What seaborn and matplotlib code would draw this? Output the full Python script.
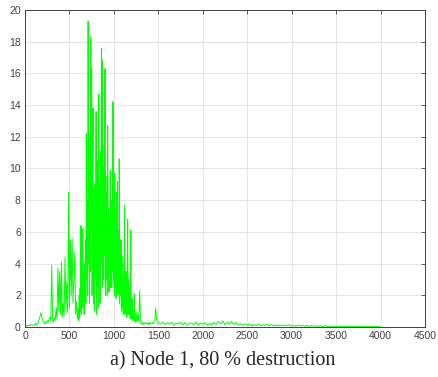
import numpy as np
import pandas as pd
import seaborn as sns
import matplotlib
matplotlib.use("Agg")
import matplotlib.pyplot as plt

# values
# start: 0..590 every 10
start_x = list(range(0, 600, 10))
start_y = [
    0.05, 0.1, 0.05, 0.1, 0.08, 0.12, 0.1, 0.15, 0.1, 0.12,
    0.15, 0.1, 0.2, 0.15, 0.25, 0.3, 0.5, 0.7, 0.9, 0.6,
    0.4, 0.3, 0.2, 0.3, 0.25, 0.4, 0.3, 0.5, 0.6, 0.4,
    3.9, 0.5, 0.3, 0.6, 0.4, 1.2, 0.5, 3.7, 1.0, 3.5,
    0.8, 4.1, 0.6, 1.5, 0.7, 4.4, 1.0, 2.8, 0.9, 8.5,
    1.2, 5.5, 2.0, 5.6, 1.5, 3.0, 4.7, 0.8, 1.6, 0.5,
]
# burst: 600..1250 every 5
burst_x = list(range(600, 1255, 5))
burst_y = [
    1.2, 0.4, 2.0, 0.6, 2.5, 1.0, 6.4, 0.8, 3.0, 1.2, 6.2, 1.5, 3.5, 0.8, 4.0, 2.0, 5.5, 1.5, 12.2, 3.0,
    8.0, 2.0, 19.3, 4.0, 12.0, 1.5, 10.0, 3.5, 18.3, 6.0, 16.3, 2.0, 9.0, 13.8, 1.5, 7.0, 1.0, 9.0, 3.0, 6.5,
    13.6, 0.8, 8.0, 2.5, 10.5, 1.2, 14.7, 3.0, 9.0, 1.5, 11.0, 4.0, 17.6, 5.0, 16.8, 2.5, 10.0, 3.0, 11.4, 4.5,
    16.3, 2.0, 9.5, 3.0, 8.5, 2.0, 12.7, 4.0, 7.5, 2.2, 7.0, 3.0, 9.9, 2.5, 8.0, 2.5, 6.0, 3.5, 14.2, 2.8,
    8.0, 2.0, 9.7, 2.5, 7.5, 1.8, 8.5, 3.0, 9.2, 2.0, 6.0, 2.2, 10.6, 1.5, 5.5, 2.0, 5.5, 1.0, 4.5, 1.2,
    4.0, 0.8, 3.0, 1.0, 7.7, 0.8, 3.5, 1.0, 3.5, 0.6, 2.5, 6.8, 0.8, 3.0, 0.8, 2.0, 2.5, 0.5, 6.1, 0.6,
    0.5, 1.8, 1.5, 0.4, 0.8, 0.4, 2.1, 0.5, 0.5, 0.3, 1.0,
]
# decay: 1260..1500 every 10
decay_x = list(range(1260, 1510, 10))
decay_y = [
    0.3, 0.8, 0.4, 2.3, 0.3, 0.2, 0.3, 0.15, 0.25, 0.2,
    0.3, 0.2, 0.25, 0.15, 0.3, 0.2, 0.25, 0.3, 0.2, 0.3,
    0.35, 1.2, 0.5, 0.3, 0.25,
]
# tail: 1525..4000 every 25
tail_x = list(range(1525, 4025, 25))
tail_y = [
    0.2, 0.32, 0.15, 0.28, 0.18, 0.3, 0.12, 0.25, 0.2, 0.3,
    0.15, 0.28, 0.12, 0.22, 0.25, 0.15, 0.3, 0.12, 0.25, 0.18,
    0.28, 0.12, 0.22, 0.15, 0.3, 0.15, 0.35, 0.2, 0.38, 0.15,
    0.3, 0.2, 0.35, 0.15, 0.28, 0.12, 0.22, 0.1, 0.2, 0.12,
    0.18, 0.08, 0.15, 0.1, 0.18, 0.08, 0.14, 0.1, 0.2, 0.08,
    0.15, 0.06, 0.12, 0.08, 0.14, 0.06, 0.12, 0.08, 0.15, 0.06,
    0.1, 0.05, 0.12, 0.06, 0.1, 0.05, 0.09, 0.04, 0.1, 0.05,
    0.08, 0.04, 0.07, 0.03, 0.08, 0.04, 0.06, 0.03, 0.07, 0.03,
    0.06, 0.02, 0.05, 0.03, 0.06, 0.02, 0.05, 0.03, 0.04, 0.02,
    0.05, 0.02, 0.04, 0.03, 0.05, 0.02, 0.04, 0.02, 0.03, 0.02,
]

df = pd.DataFrame({"x": start_x + burst_x + decay_x + tail_x,
                   "y": start_y + burst_y + decay_y + tail_y})

sns.set_theme(style="whitegrid")
plt.rcParams["font.family"] = ["Liberation Sans", "DejaVu Sans"]

fig = plt.figure(figsize=(4.39, 3.77), dpi=100)
ax = fig.add_axes([0.057, 0.1326, 0.911, 0.841])

sns.lineplot(data=df, x="x", y="y", color="#00ff00", linewidth=0.7, ax=ax)

ax.set_xlim(0, 4500)
ax.set_ylim(0, 20)
ax.set_xticks(range(0, 5000, 500))
ax.set_yticks(range(0, 22, 2))
ax.set_xlabel("")
ax.set_ylabel("")
ax.grid(True, color="#e0e0e0", linewidth=0.6)
for s in ax.spines.values():
    s.set_color("#404040")
    s.set_linewidth(0.7)
ax.tick_params(direction="in", length=3, width=0.6, color="#404040",
               top=True, right=True, labelsize=7.5, labelcolor="#404040", pad=3)

fig.text(0.508, 0.043, "a) Node 1, 80 % destruction", ha="center", va="center",
         fontsize=14.5, family=["Liberation Serif", "DejaVu Serif"])

fig.savefig("out.png", dpi=100)
